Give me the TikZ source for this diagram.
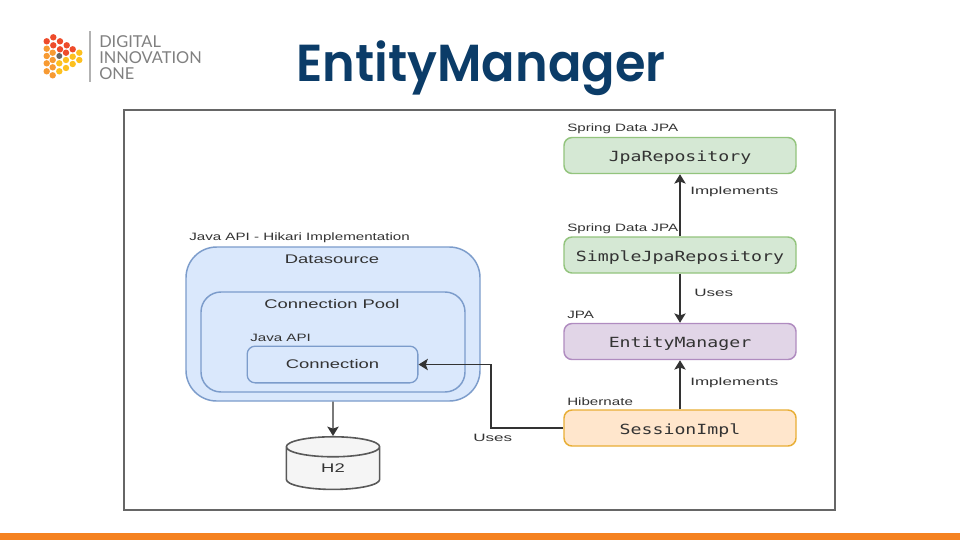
\documentclass[tikz,border=0pt]{standalone}
\usepackage{fontspec}
\usetikzlibrary{shapes.geometric,arrows.meta}
\setmainfont{Liberation Sans}
\newfontfamily\lab[FakeStretch=1.42]{Liberation Sans}
\newfontfamily\edg[FakeStretch=1.6]{Liberation Sans}
\newfontfamily\blb[FakeStretch=1.47]{Liberation Sans}
\newfontfamily\cod[FakeStretch=1.3]{DejaVu Sans Mono}
\newfontfamily\ttl[FakeStretch=0.95]{Poppins SemiBold}
\newfontfamily\lgo{Lato}
\definecolor{navy}{HTML}{0B3C68}
\definecolor{ink}{HTML}{333333}
\definecolor{lred}{HTML}{EE4B2B}
\definecolor{lorg}{HTML}{F79A32}
\definecolor{lyel}{HTML}{FDC01E}
\definecolor{grnb}{HTML}{93C47D}
\definecolor{grnf}{HTML}{D5E8D4}
\definecolor{purb}{HTML}{B08CC0}
\definecolor{purf}{HTML}{E1D5E7}
\definecolor{orab}{HTML}{E8AE35}
\definecolor{oraf}{HTML}{FFE6CC}
\definecolor{blub}{HTML}{7C9CCB}
\definecolor{bluf}{HTML}{DAE8FC}
\tikzset{
  x=0.75pt,y=-0.75pt,
  base/.style={inner sep=0pt,line width=1.1pt,text=ink},
  cbox/.style={base,rounded corners=6pt,minimum width=174pt,minimum height=27pt,text height=9.4pt,text depth=0pt,font=\cod\fontsize{10.5}{13}\selectfont},
  green/.style={cbox,draw=grnb,fill=grnf},
  purple/.style={cbox,draw=purb,fill=purf},
  orange/.style={cbox,draw=orab,fill=oraf},
  lbl/.style={inner sep=0pt,text=ink,font=\lab\fontsize{8}{10}\selectfont},
  elbl/.style={inner sep=0pt,text=ink,font=\edg\fontsize{8}{10}\selectfont},
  blbl/.style={inner sep=0pt,text=ink,font=\blb\fontsize{9.4}{11}\selectfont},
  blue/.style={base,draw=blub,fill=bluf},
  conn/.style={draw=ink,line width=1.1pt,-{Stealth[length=7pt,width=8.5pt,inset=1.5pt]}},
  dotr/.style={circle,inner sep=0pt,minimum size=4.8pt,fill=lred},
  doto/.style={circle,inner sep=0pt,minimum size=4.8pt,fill=lorg},
  doty/.style={circle,inner sep=0pt,minimum size=4.8pt,fill=lyel},
  logot/.style={inner sep=0pt,anchor=west,text=black!50,font=\lgo\fontsize{12.3}{15}\selectfont},
}
\begin{document}
\begin{tikzpicture}
\useasboundingbox (0,0) rectangle (960,540);
\fill[white] (0,0) rectangle (960,540);
\fill[fill={rgb,255:red,245;green,130;blue,32}] (0,533) rectangle (960,540);
% logo
\foreach \p in {(53.3,37.3),(46.7,41.3),(60,41.3),(53.3,45.3),(66.7,45.3),(60,49.3),(72.7,49.3),(66,52.7)}
  \node[dotr] at \p {};
\foreach \p in {(46.7,48.7),(52.7,52.7),(46.7,56),(52.7,60),(46.7,63.3),(52.7,67.3),(46.7,71.3),(52.7,75.3)}
  \node[doto] at \p {};
\foreach \p in {(79.3,52.7),(72.7,56.7),(79.3,60),(66,60),(59.3,63.3),(72.7,64),(66,68),(59.3,71.3)}
  \node[doty] at \p {};
\fill[black!60] (59.3,56) circle (3);
\draw[black!30,line width=0.8pt] (90,31) -- (90,82);
\node[logot] (l1) at (99,42) {DIGITAL};
\node[logot] (l2) at (99,58) {INNOVATION};
\node[logot] (l3) at (99,74) {ONE};
% title
\node[inner sep=0pt,text=navy,font=\ttl\fontsize{39}{48}\selectfont] (title) at (481,68) {EntityManager};
% frame
\draw[draw=black!60,line width=0.9pt,fill=white] (124,110) rectangle (835,510);
% right column
\node[green] (jpa) at (680,155.5) {JpaRepository};
\node[green] (simple) at (680,255) {SimpleJpaRepository};
\node[purple] (em) at (680,341.5) {EntityManager};
\node[orange] (sess) at (680,428) {SessionImpl};
\node[lbl,anchor=west] (l-a) at (567,129) {Spring Data JPA};
\node[lbl,anchor=west] (l-b) at (567,229) {Spring Data JPA};
\node[lbl,anchor=west] (l-c) at (567,315) {JPA};
\node[lbl,anchor=west] (l-d) at (567,402) {Hibernate};
% left
\node[blue,rounded corners=23pt,minimum width=220.5pt,minimum height=115.5pt] (ds) at (333,324) {};
\node[blbl] (ds-t) at (332,259) {Datasource};
\node[blue,rounded corners=15pt,minimum width=198pt,minimum height=75pt] (pool) at (333,342) {};
\node[blbl] (pool-t) at (332,304) {Connection Pool};
\node[blue,rounded corners=6pt,minimum width=128pt,minimum height=27.5pt,blbl,draw=blub,line width=1pt] (conn) at (332.5,364.5) {Connection};
\node[lbl,anchor=west] (l-e) at (250,338) {Java API};
\node[lbl,anchor=west] (l-f) at (189,238) {Java API - Hikari Implementation};
\node[cylinder,shape border rotate=90,aspect=0.85,draw=black!65,line width=1.2pt,fill=black!4,minimum width=70pt,minimum height=39.5pt,inner sep=0pt,text=ink,blbl] (h2) at (333,468.5) {H2};
% connectors
\draw[conn] (simple.north) -- (jpa.south);
\draw[conn] (simple.south) -- (em.north);
\draw[conn] (sess.north) -- (em.south);
\draw[conn] (ds.south) -- (h2.north);
\draw[conn] (sess.west) -| (491,364.5) -- (conn.east);
\node[elbl,anchor=west] (t1) at (690,191.5) {Implements};
\node[elbl,anchor=west] (t2) at (694,292.5) {Uses};
\node[elbl,anchor=west] (t3) at (690,383) {Implements};
\node[elbl,anchor=west] (t4) at (473,438) {Uses};
\end{tikzpicture}
\end{document}
